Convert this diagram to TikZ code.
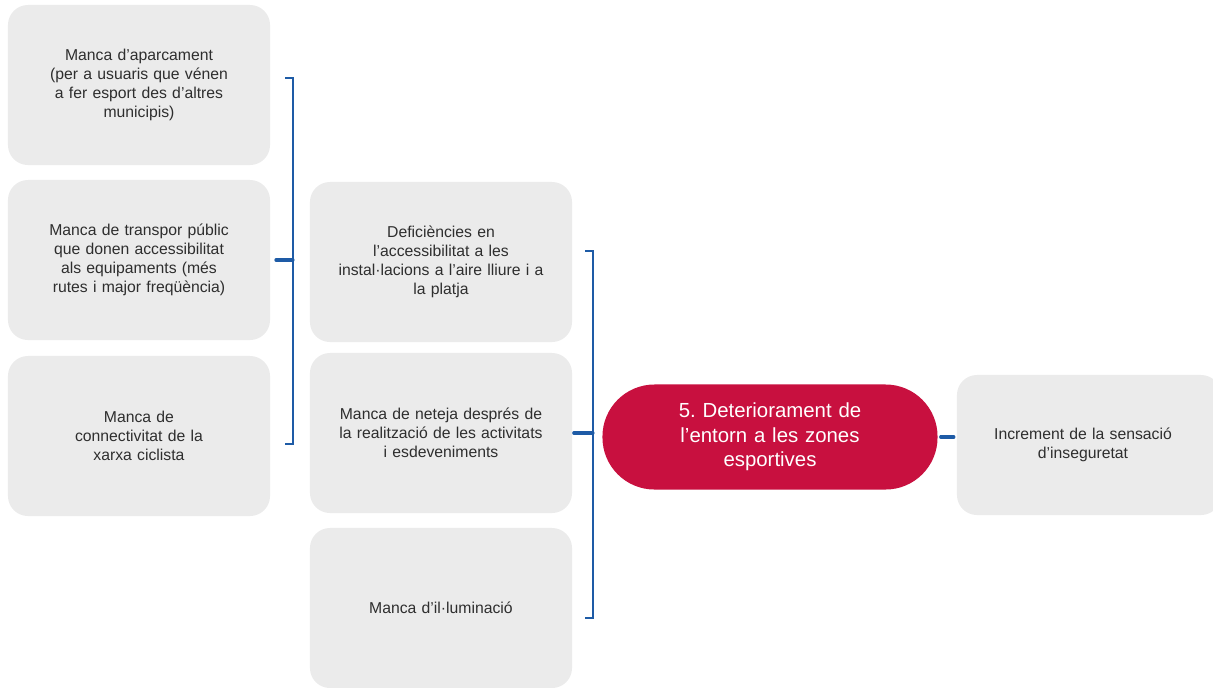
\documentclass[tikz,border=0pt]{standalone}
\usepackage{fontspec}
\setmainfont{Liberation Sans}
\usepackage{xcolor}
\usetikzlibrary{calc}

\definecolor{boxgray}{HTML}{EBEBEB}
\definecolor{txtgray}{HTML}{2E2E2E}
\definecolor{mainred}{HTML}{C8103F}
\definecolor{linkblue}{HTML}{1E5BA6}

\frenchspacing
\begin{document}
\begin{tikzpicture}[x=0.025cm, y=-0.025cm,
	cause/.style={fill=boxgray, rounded corners=0.5cm, minimum width=6.55cm, minimum height=4cm, text width=5.9cm, align=center, text=txtgray, font=\fontsize{11.2}{13.6}\selectfont, inner sep=0pt},
	mainbox/.style={fill=mainred, rounded corners=1.3cm, minimum width=8.375cm, minimum height=2.625cm, text width=7cm, align=center, text=white, font=\fontsize{14.5}{17.5}\selectfont, inner sep=0pt},
	bracket/.style={draw=linkblue, line width=1.1pt},
	stub/.style={draw=linkblue, line width=2.2pt, line cap=round}]
	\useasboundingbox (0,0) rectangle (1213,687);
	% first column
	\node[cause] (park) at (139,85) {Manca d'aparcament\\(per a usuaris que vénen\\a fer esport des d'altres\\municipis)};
	\node[cause] (bus) at (139,260) {Manca de transpor públic\\que donen accessibilitat\\als equipaments (més\\rutes i major freqüència)};
	\node[cause] (bike) at (139,436) {Manca de\\connectivitat de la\\xarxa ciclista};
	% second column
	\node[cause] (access) at (441,262) {Deficiències en\\l'accessibilitat a les\\instal·lacions a l'aire lliure i a\\la platja};
	\node[cause] (clean) at (441,433) {Manca de neteja després de\\la realització de les activitats\\i esdeveniments};
	\node[cause] (light) at (441,608) {Manca d'il·luminació};
	% problem and effect
	\node[mainbox] (main) at (770,437) {5. Deteriorament de\\l'entorn a les zones\\esportives};
	\node[cause, minimum width=6.6cm, minimum height=3.5cm] (effect) at (1089,445) {\hspace*{-0.3cm}Increment de la sensació\\\hspace*{-0.3cm}d'inseguretat};
	% brackets
	\coordinate (j1) at (293,260);
	\coordinate (j2) at (593,433);
	\draw[bracket] (285,78) -| (j1) |- (285,444);
	\draw[bracket] (585,251) -| (j2) |- (585,618);
	\draw[stub, shorten <=4pt] (bus.east) -- (j1);
	\draw[stub, shorten <=1pt] (clean.east) -- (j2);
	\draw[stub, shorten <=2pt, shorten >=2pt] (main.east) -- (effect.west |- main.east);
\end{tikzpicture}
\end{document}
